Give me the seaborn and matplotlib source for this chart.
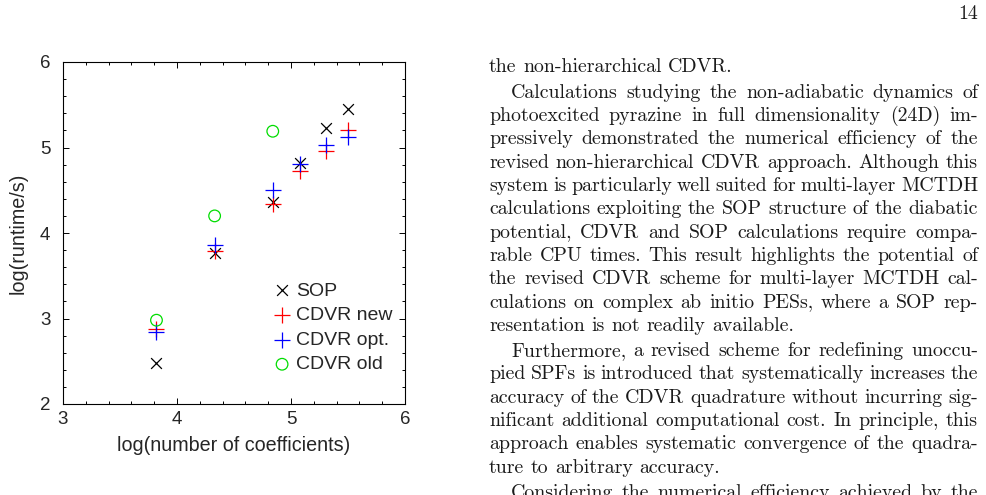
import numpy as np
import pandas as pd
import seaborn as sns
import matplotlib.pyplot as plt
from matplotlib.ticker import MultipleLocator

# chart values
log_coeffs = [3.82, 4.33, 4.84, 5.08, 5.31, 5.50]
sop = [2.48, 3.77, 4.36, 4.82, 5.23, 5.45]
cdvr_new = [2.88, 3.79, 4.34, 4.73, 4.96, 5.20]
cdvr_opt = [2.84, 3.86, 4.50, 4.81, 5.03, 5.12]
log_coeffs_old = [3.82, 4.33, 4.84]
cdvr_old = [2.98, 4.20, 5.19]

page_number = "14"
paragraphs = [
    (False, ["the non-hierarchical CDVR."]),
    (True, ["Calculations studying the non-adiabatic dynamics of",
            "photoexcited pyrazine in full dimensionality (24D) im-",
            "pressively demonstrated the numerical efficiency of the",
            "revised non-hierarchical CDVR approach. Although this",
            "system is particularly well suited for multi-layer MCTDH",
            "calculations exploiting the SOP structure of the diabatic",
            "potential, CDVR and SOP calculations require compa-",
            "rable CPU times. This result highlights the potential of",
            "the revised CDVR scheme for multi-layer MCTDH cal-",
            "culations on complex ab initio PESs, where a SOP rep-",
            "resentation is not readily available."]),
    (True, ["Furthermore, a revised scheme for redefining unoccu-",
            "pied SPFs is introduced that systematically increases the",
            "accuracy of the CDVR quadrature without incurring sig-",
            "nificant additional computational cost. In principle, this",
            "approach enables systematic convergence of the quadra-",
            "ture to arbitrary accuracy."]),
    (True, ["Considering the numerical efficiency achieved by the"]),
]

sns.set_style("ticks")
plt.rcParams['font.family'] = ['Liberation Sans', 'DejaVu Sans']

W, H = 987, 495
fig = plt.figure(figsize=(W / 100, H / 100), dpi=100)
ax = fig.add_axes([63 / W, 91 / H, 342 / W, 342 / H])

df = pd.DataFrame({'x': log_coeffs, 'sop': sop, 'new': cdvr_new, 'opt': cdvr_opt})
df_old = pd.DataFrame({'x': log_coeffs_old, 'old': cdvr_old})

sns.scatterplot(data=df, x='x', y='sop', marker='x', color='black', s=60,
                linewidth=0.9, label='SOP', ax=ax, zorder=3)
sns.scatterplot(data=df, x='x', y='new', marker='+', color='red', s=120,
                linewidth=0.9, label='CDVR new', ax=ax, zorder=3)
sns.scatterplot(data=df, x='x', y='opt', marker='+', color='blue', s=120,
                linewidth=0.9, label='CDVR opt.', ax=ax, zorder=3)
sns.scatterplot(data=df_old, x='x', y='old', marker='o', facecolor='none',
                edgecolor='#00dd00', s=70, linewidth=0.9, label='CDVR old', ax=ax, zorder=3)

ax.set_xlim(3, 6)
ax.set_ylim(2, 6)
ax.xaxis.set_major_locator(MultipleLocator(1))
ax.yaxis.set_major_locator(MultipleLocator(1))
ax.xaxis.set_minor_locator(MultipleLocator(0.2))
ax.yaxis.set_minor_locator(MultipleLocator(0.2))
ax.tick_params(which='both', direction='in', top=True, right=True, color='black', width=0.7)
ax.tick_params(which='major', length=4.5)
ax.tick_params(which='minor', length=2.5)
ax.tick_params(axis='x', which='major', pad=5, labelsize=13.5)
ax.tick_params(axis='y', which='major', pad=9, labelsize=13.5)
for sp in ax.spines.values():
    sp.set_visible(True)
    sp.set_linewidth(0.8)
    sp.set_color('black')

ax.set_xlabel('log(number of coefficients)', fontsize=14.2, labelpad=6)
ax.set_ylabel('log(runtime/s)', fontsize=14.2, labelpad=9)

ax.legend(loc='upper left', bbox_to_anchor=(0.615, 0.357), frameon=False,
          fontsize=14, handlelength=0.9, handletextpad=0.25, labelspacing=0.36,
          borderpad=0, borderaxespad=0)

# page text on the right
fs = 14.3
txt_kw = dict(family=['cmr10', 'DejaVu Serif'], fontsize=fs, color='#1a1a1a', va='baseline')
renderer = fig.canvas.get_renderer()
x_left, x_right, indent = 489, 978, 22
line_step, par_gap = 23.3, 2


def put_line(line, x0, y, justify):
    words = line.split(' ')
    arts = [fig.text(0, 0, w, ha='left', **txt_kw) for w in words]
    widths = [a.get_window_extent(renderer).width for a in arts]
    gap = 0.333 * fs * 100 / 72
    if justify and len(words) > 1:
        gap = max(3.5, (x_right - x0 - sum(widths)) / (len(words) - 1))
    x = x0
    for a, w in zip(arts, widths):
        a.set_position((x / W, 1 - y / H))
        x += w + gap


fig.text(x_right / W, 1 - 19 / H, page_number, ha='right', **txt_kw)

y = 72.5
for i, (indented, lines) in enumerate(paragraphs):
    if i > 0:
        y += par_gap
    for j, line in enumerate(lines):
        x0 = x_left + indent if (indented and j == 0) else x_left
        last = (j == len(lines) - 1) and i < len(paragraphs) - 1
        put_line(line, x0, y, not last)
        y += line_step

fig.savefig('out.png', dpi=100)
